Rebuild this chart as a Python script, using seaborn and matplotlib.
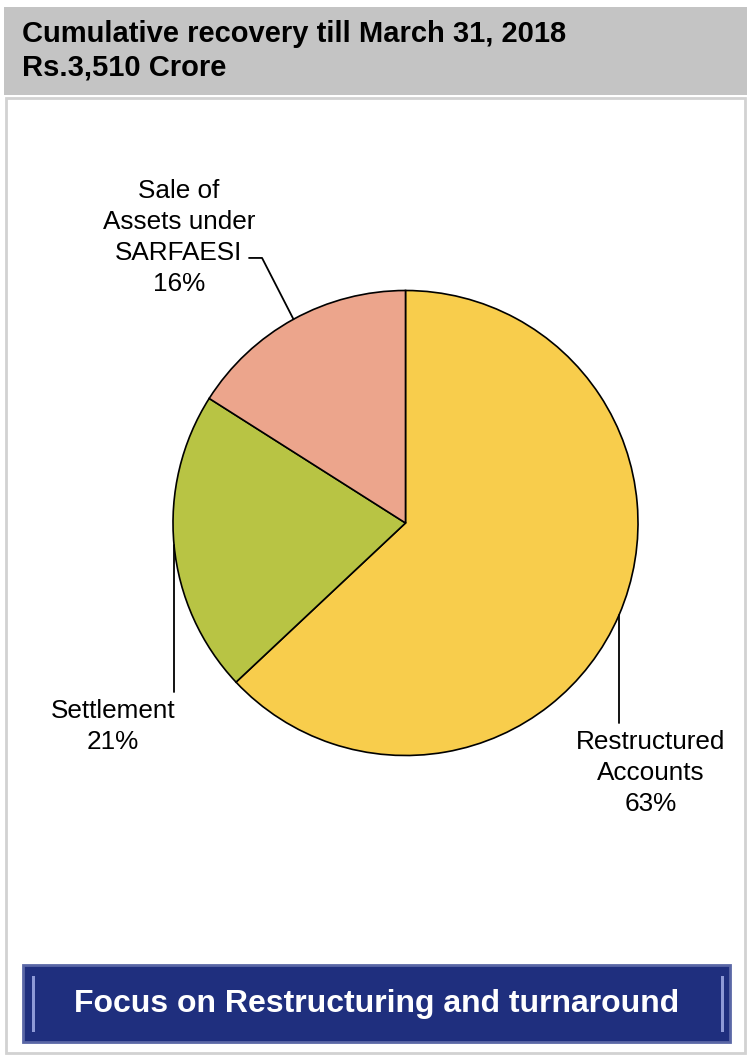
"""Pie chart of cumulative recovery by channel, with header band and footer banner."""

import numpy as np
import matplotlib.pyplot as plt
import seaborn as sns
from matplotlib.patches import Rectangle, FancyBboxPatch

# data
categories = ['Restructured\nAccounts', 'Settlement', 'Sale of\nAssets under\nSARFAESI']
shares = [63, 21, 16]
slice_colors = ['#F8CD4C', '#B8C444', '#ECA58C']
title_lines = ['Cumulative recovery till March 31, 2018', 'Rs.3,510 Crore']
banner_text = 'Focus on Restructuring and turnaround'

W, H = 747, 1055

sns.set_theme(style='white')
plt.rcParams['font.family'] = ['Liberation Sans', 'DejaVu Sans']
plt.rcParams['text.color'] = 'black'


def fx(x):
    return x / W


def fy(y):
    return 1 - y / H


fig = plt.figure(figsize=(W / 100, H / 100), dpi=100)
fig.patch.set_facecolor('white')

# header band and outer box
fig.patches.append(Rectangle((fx(4), fy(95)), fx(743), 88 / H, transform=fig.transFigure,
                             facecolor='#C4C4C4', edgecolor='none', zorder=-2))
fig.patches.append(Rectangle((fx(6), fy(1053)), fx(739), 955 / H, transform=fig.transFigure,
                             facecolor='white', edgecolor='#D2D2D2', linewidth=2, zorder=-2))
fig.text(fx(22), fy(42), title_lines[0], fontsize=21, fontweight='bold', va='baseline')
fig.text(fx(22), fy(76), title_lines[1], fontsize=21, fontweight='bold', va='baseline')

# pie axes: centre (405.5, 523), radius 232.5 px
cx, cy, r = 405.5, 523, 232.5
ax = fig.add_axes([fx(cx - r), fy(cy + r), 2 * r / W, 2 * r / H])
ax.set_zorder(5)
ax.patch.set_alpha(0)
wedges, _ = ax.pie(shares, colors=slice_colors, startangle=90, counterclock=False,
                   radius=1, wedgeprops=dict(edgecolor='black', linewidth=1.2))
ax.set_xlim(-1, 1)
ax.set_ylim(-1, 1)
ax.set_aspect('equal')
ax.axis('off')

# label layout (text centre, leader path after the wedge midpoint) in pie radii
label_pos = [(1.056, -1.075), (-1.258, -0.875), (-0.975, 1.228)]
leader_path = [[(None, -0.86)], [(None, -0.727)], [(-0.617, 1.14), (-0.673, 1.14)]]

for w, cat, pct, pos, path in zip(wedges, categories, shares, label_pos, leader_path):
    mid = np.deg2rad((w.theta1 + w.theta2) / 2)
    x0, y0 = np.cos(mid), np.sin(mid)
    xs, ys = [x0], [y0]
    for px, py in path:
        xs.append(x0 if px is None else px)
        ys.append(py)
    ax.plot(xs, ys, color='black', linewidth=1.3, clip_on=False)
    ax.text(pos[0], pos[1], f'{cat}\n{pct}%', ha='center', va='center',
            fontsize=18.8, linespacing=1.36, clip_on=False)

# footer banner
fig.patches.append(FancyBboxPatch((fx(23), fy(1042)), fx(707), 77 / H, transform=fig.transFigure,
                                  boxstyle='square,pad=0', facecolor='#1F2F7E',
                                  edgecolor='#5A67A6', linewidth=2, zorder=1))
for hx in (32, 721):
    fig.patches.append(Rectangle((fx(hx), fy(1032)), fx(3), 56 / H, transform=fig.transFigure,
                                 facecolor='#8E9AD6', edgecolor='none', zorder=2))
fig.text(fx(376.5), fy(1004), banner_text, fontsize=23, fontweight='bold', color='white',
         ha='center', va='center', zorder=3)

fig.savefig('out.png', dpi=100)
